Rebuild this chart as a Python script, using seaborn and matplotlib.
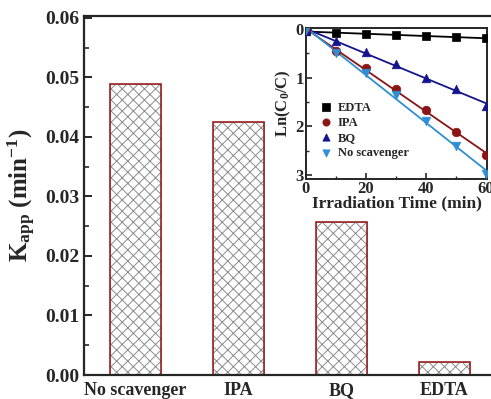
import numpy as np
import pandas as pd
import matplotlib
matplotlib.use("Agg")
import matplotlib.pyplot as plt
from matplotlib.ticker import MultipleLocator
import seaborn as sns

# Apparent rate constants for each scavenger
scavengers = ["No scavenger", "IPA", "BQ", "EDTA"]
kapp = [0.0488, 0.0425, 0.0257, 0.0022]

# Kinetic data: ln(C0/C) versus irradiation time
time_min = [0, 10, 20, 30, 40, 50, 60]
ln_edta = [0.05, 0.08, 0.10, 0.12, 0.14, 0.17, 0.19]
ln_ipa = [0.03, 0.45, 0.80, 1.23, 1.66, 2.12, 2.58]
ln_bq = [0.04, 0.25, 0.48, 0.72, 1.00, 1.24, 1.58]
ln_none = [0.03, 0.49, 0.90, 1.36, 1.88, 2.40, 2.97]

sns.set_style("ticks")
plt.rcParams["font.family"] = ["Liberation Serif", "DejaVu Serif"]
plt.rcParams["font.weight"] = "bold"
plt.rcParams["mathtext.fontset"] = "custom"
plt.rcParams["mathtext.rm"] = "Liberation Serif:bold"
plt.rcParams["mathtext.it"] = "Liberation Serif:italic:bold"
plt.rcParams["mathtext.bf"] = "Liberation Serif:bold"
plt.rcParams["hatch.linewidth"] = 0.7
plt.rcParams["axes.linewidth"] = 1.6

fig = plt.figure(figsize=(4.91, 3.99), dpi=100)
ax = fig.add_axes([84 / 491, 24 / 399, 412 / 491, 359 / 399])

bars = pd.DataFrame({"scavenger": scavengers, "kapp": kapp})
sns.barplot(data=bars, x="scavenger", y="kapp", ax=ax, color="white",
            edgecolor="#8c8c8c", linewidth=0.6, width=0.5, hatch="xxx",
            saturation=1)
sns.barplot(data=bars, x="scavenger", y="kapp", ax=ax, fill=False,
            edgecolor="#9b2222", linewidth=1.2, width=0.5)

ax.set_xlim(-0.5, 3.5)
ax.set_ylim(0, 0.0603)
ax.yaxis.set_minor_locator(MultipleLocator(0.005))
ax.set_yticks([0, 0.01, 0.02, 0.03, 0.04, 0.05, 0.06])
ax.set_yticklabels(["0.00", "0.01", "0.02", "0.03", "0.04", "0.05", "0.06"])
ax.tick_params(axis="y", which="major", direction="in", length=6, width=1.4,
               labelsize=14)
ax.tick_params(axis="y", which="minor", direction="in", length=3.5, width=1.2)
ax.tick_params(axis="x", length=0, labelsize=13, pad=5)
for lab in ax.get_xticklabels() + ax.get_yticklabels():
    lab.set_fontweight("bold")
ax.set_xlabel("")
ax.set_ylabel(r"K$_{\mathrm{app}}$ (min$^{-1}$)", fontsize=18,
              fontweight="bold", labelpad=5)

# Inset: pseudo-first-order kinetics
ins = fig.add_axes([306 / 491, 220 / 399, 181 / 491, 151 / 399])
ins.set_facecolor("white")
series = [
    ("EDTA", ln_edta, "black", "s"),
    ("IPA", ln_ipa, "#8b1414", "o"),
    ("BQ", ln_bq, "#14148c", "^"),
    ("No scavenger", ln_none, "#2f8fd4", "v"),
]
for name, vals, col, mk in series:
    df = pd.DataFrame({"t": time_min, "y": vals})
    sns.regplot(data=df, x="t", y="y", ax=ins, scatter=False, ci=None,
                color=col, line_kws={"linewidth": 1.3}, truncate=True)
    sns.scatterplot(data=df, x="t", y="y", ax=ins, color=col, marker=mk,
                    s=38, edgecolor=col, linewidth=0.5, label=name, zorder=5)

ins.set_xlim(0, 60.5)
ins.set_ylim(3.08, -0.02)
ins.xaxis.set_major_locator(MultipleLocator(20))
ins.xaxis.set_minor_locator(MultipleLocator(10))
ins.yaxis.set_major_locator(MultipleLocator(1))
ins.yaxis.set_minor_locator(MultipleLocator(0.5))
ins.tick_params(which="major", direction="in", length=4, width=1.2,
                labelsize=12, pad=1.5)
ins.tick_params(which="minor", direction="in", length=2.5, width=1.0)
for lab in ins.get_xticklabels() + ins.get_yticklabels():
    lab.set_fontweight("bold")
for sp in ins.spines.values():
    sp.set_linewidth(1.4)
ins.set_xlabel("Irradiation Time (min)", fontsize=12.5, fontweight="bold",
               labelpad=-1)
ins.set_ylabel(r"Ln(C$_{\mathrm{0}}$/C)", fontsize=12, fontweight="bold",
               labelpad=2)
leg = ins.legend(loc="lower left", bbox_to_anchor=(0.05, 0.10), frameon=False,
                 prop={"weight": "bold", "size": 9}, labelspacing=0.25,
                 handletextpad=0.4, handlelength=1.0, borderaxespad=0,
                 markerscale=0.85)

fig.savefig("out.png", dpi=100, facecolor="white")
